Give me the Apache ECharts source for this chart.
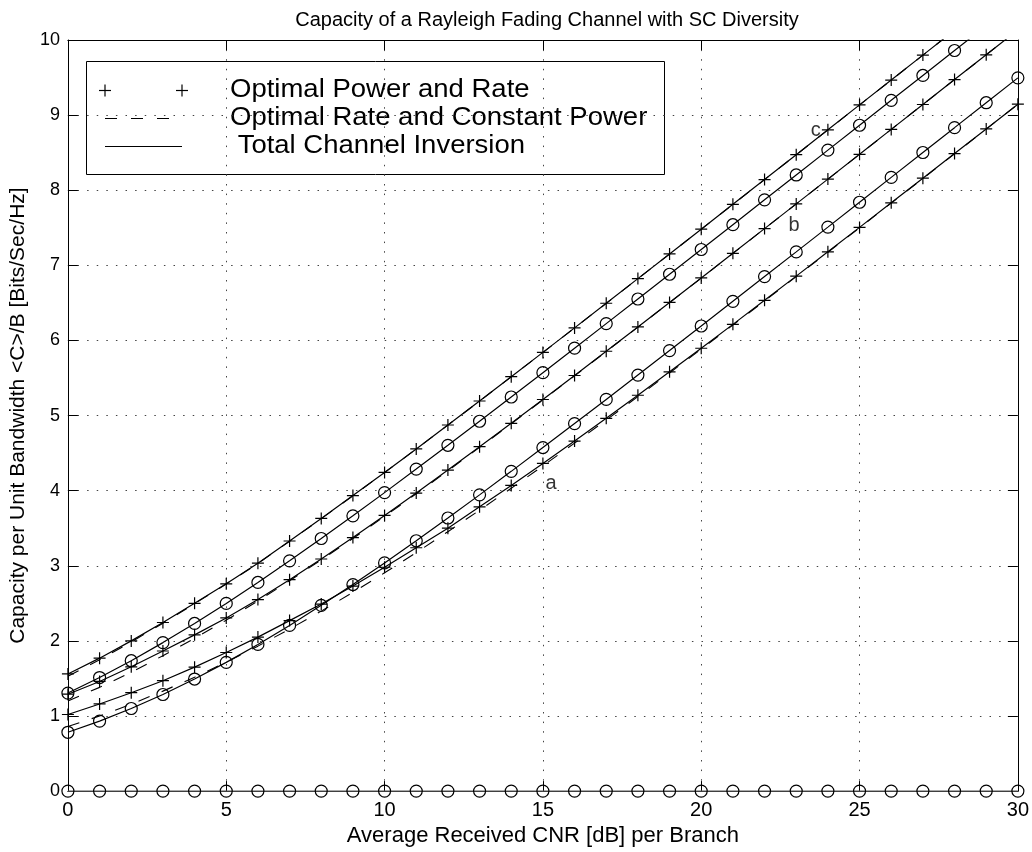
<!DOCTYPE html>
<html>
<head>
<meta charset="utf-8">
<script src="https://cdn.jsdelivr.net/npm/echarts@6/dist/echarts.min.js"></script>
<style>
  html, body { margin: 0; padding: 0; background: #fff; }
  #chart { width: 1032px; height: 852px; }
</style>
</head>
<body>
<div id="chart"></div>
<script>
// ---- Data ----
const chartTitle = 'Capacity of a Rayleigh Fading Channel with SC Diversity';
const xAxisTitle = 'Average Received CNR [dB] per Branch';
const yAxisTitle = 'Capacity per Unit Bandwidth <C>/B [Bits/Sec/Hz]';
const legendLabels = ['Optimal Power and Rate', 'Optimal Rate and Constant Power', ' Total Channel Inversion'];

const cnrDb = [0,1,2,3,4,5,6,7,8,9,10,11,12,13,14,15,16,17,18,19,20,21,22,23,24,25,26,27,28,29,30];

// Optimal power and rate (+ markers)
const opraA = [1.02,1.16,1.31,1.47,1.65,1.845,2.05,2.27,2.49,2.73,2.98,3.24,3.50,3.785,4.07,4.363,4.66,4.963,5.27,5.582,5.896,6.214,6.534,6.856,7.18,7.505,7.832,8.16,8.488,8.816,9.145];
const opraB = [1.29,1.46,1.655,1.865,2.08,2.305,2.55,2.815,3.09,3.375,3.67,3.968,4.274,4.585,4.897,5.214,5.533,5.856,6.18,6.506,6.832,7.16,7.489,7.818,8.148,8.478,8.81,9.141,9.473,9.803,10.135];
const opraC = [1.56,1.77,2.0,2.245,2.5,2.76,3.035,3.33,3.63,3.935,4.243,4.556,4.874,5.194,5.517,5.841,6.167,6.495,6.823,7.152,7.481,7.812,8.142,8.473,8.804,9.136,9.467,9.799,10.131,10.46,10.79];

// Optimal rate and constant power (dashed)
const oraA = [0.86,1.0,1.158,1.331,1.516,1.716,1.93,2.157,2.396,2.646,2.906,3.176,3.454,3.74,4.032,4.33,4.633,4.941,5.252,5.567,5.884,6.204,6.526,6.849,7.174,7.5,7.828,8.156,8.485,8.814,9.144];
const oraB = [1.20,1.381,1.583,1.803,2.033,2.276,2.531,2.80,3.078,3.364,3.657,3.958,4.265,4.577,4.891,5.209,5.529,5.853,6.177,6.504,6.83,7.159,7.488,7.817,8.147,8.477,8.81,9.141,9.473,9.803,10.135];
const oraC = [1.528,1.75,1.985,2.235,2.495,2.757,3.03,3.327,3.627,3.932,4.241,4.555,4.873,5.193,5.516,5.84,6.166,6.494,6.822,7.151,7.48,7.811,8.141,8.472,8.803,9.135,9.466,9.798,10.13,10.46,10.79];

// Total channel inversion (o markers)
const tciA = [0,0,0,0,0,0,0,0,0,0,0,0,0,0,0,0,0,0,0,0,0,0,0,0,0,0,0,0,0,0,0];
const tciB = [0.783,0.932,1.10,1.286,1.492,1.714,1.953,2.206,2.473,2.75,3.038,3.333,3.636,3.944,4.257,4.574,4.893,5.215,5.539,5.865,6.192,6.521,6.85,7.179,7.509,7.84,8.171,8.502,8.833,9.165,9.496];
const tciC = [1.305,1.512,1.736,1.977,2.232,2.499,2.778,3.066,3.363,3.665,3.974,4.287,4.604,4.924,5.247,5.571,5.897,6.224,6.552,6.881,7.211,7.541,7.872,8.203,8.534,8.865,9.197,9.528,9.86,10.191,10.522];

// Curve annotations
const annotText = ['a', 'b', 'c'];
const annotX = [15.26, 22.93, 23.62];
const annotY = [4.10, 7.53, 8.80];

// ---- Chart ----
const FONT = "'Liberation Sans', Arial, Helvetica, sans-serif";
const PLUS = 'path://M5,0L5,10M0,5L10,5';
const pair = (ys) => cnrDb.map((x, i) => [x, ys[i]]);

function plusSeries(ys, clip) {
  return {
    type: 'line', data: pair(ys), clip: clip,
    symbol: PLUS, symbolSize: 12, showAllSymbol: true,
    lineStyle: { color: '#000', width: 1.2 },
    itemStyle: { color: 'none', borderColor: '#000', borderWidth: 1.2 },
    emphasis: { disabled: true }, animation: false, z: 3
  };
}
function dashSeries(ys, clip) {
  return {
    type: 'line', data: pair(ys), clip: clip, symbol: 'none',
    lineStyle: { color: '#000', width: 1.1, type: [12, 13] },
    emphasis: { disabled: true }, animation: false, z: 2
  };
}
function circleSeries(ys, clip, lineColor) {
  return {
    type: 'line', data: pair(ys), clip: clip,
    symbol: 'circle', symbolSize: 12, showAllSymbol: true,
    lineStyle: { color: lineColor || '#000', width: 1.2 },
    itemStyle: { color: 'rgba(0,0,0,0)', borderColor: '#000', borderWidth: 1.2 },
    emphasis: { disabled: true }, animation: false, z: 3
  };
}

const gridLine = { show: true, lineStyle: { color: '#444', width: 1, type: [1.5, 8.1] } };
const axisLineBlack = { show: true, onZero: false, lineStyle: { color: '#000', width: 1 } };
const tickIn = { show: true, inside: true, length: 10, lineStyle: { color: '#000', width: 1 } };

const chart = echarts.init(document.getElementById('chart'), null, { renderer: 'canvas' });

const legendX1 = 105, legendX2 = 182;
const rowY = [90.5, 118.5, 146.5];
const legendFont = '25px ' + FONT;
const legendStretch = 1.1;

chart.setOption({
  backgroundColor: '#fff',
  animation: false,
  title: {
    text: chartTitle, left: 542, top: 5, textAlign: 'center',
    textStyle: { fontSize: 20, fontWeight: 'normal', fontFamily: FONT, color: '#000' }
  },
  grid: { left: 66, right: 13, top: 40, bottom: 60, containLabel: false },
  xAxis: [
    {
      type: 'value', min: 0, max: 30, interval: 5, position: 'bottom',
      name: xAxisTitle, nameLocation: 'middle', nameGap: 32,
      nameTextStyle: { color: '#000', fontSize: 22, fontFamily: FONT },
      axisLine: axisLineBlack, axisTick: tickIn,
      axisLabel: { margin: 9, color: '#000', fontSize: 20, fontFamily: FONT },
      splitLine: gridLine
    },
    {
      type: 'value', min: 0, max: 30, interval: 5, position: 'top',
      axisLine: axisLineBlack, axisTick: tickIn,
      axisLabel: { show: false }, splitLine: { show: false }
    }
  ],
  yAxis: [
    {
      type: 'value', min: 0, max: 10, interval: 1, position: 'left',
      name: yAxisTitle, nameLocation: 'middle', nameGap: 35,
      nameTextStyle: { color: '#000', fontSize: 21, fontFamily: FONT },
      axisLine: axisLineBlack, axisTick: tickIn,
      axisLabel: { margin: 8, color: '#000', fontSize: 18, fontFamily: FONT },
      splitLine: gridLine
    },
    {
      type: 'value', min: 0, max: 10, interval: 1, position: 'right',
      axisLine: axisLineBlack, axisTick: tickIn,
      axisLabel: { show: false }, splitLine: { show: false }
    }
  ],
  series: [
    dashSeries(oraA, true),
    dashSeries(oraB, true),
    dashSeries(oraC, true),
    plusSeries(opraA, true),
    plusSeries(opraB, true),
    plusSeries(opraC, true),
    circleSeries(tciA, false, '#555'),
    circleSeries(tciB, true),
    circleSeries(tciC, true),
    {
      type: 'scatter', symbolSize: 1, itemStyle: { color: 'rgba(0,0,0,0)' },
      data: annotText.map((t, i) => [annotX[i], annotY[i], t]),
      label: {
        show: true, position: 'inside', color: '#000', fontSize: 20, fontFamily: FONT,
        formatter: (p) => p.data[2]
      },
      emphasis: { disabled: true }, animation: false, z: 5, silent: true
    }
  ],
  graphic: [
    {
      type: 'group', z: 100,
      children: [
        { type: 'rect', shape: { x: 86.5, y: 61.5, width: 578, height: 113 },
          style: { fill: '#fff', stroke: '#000', lineWidth: 1 } },
        { type: 'line', shape: { x1: legendX1 - 6, y1: rowY[0], x2: legendX1 + 6, y2: rowY[0] }, style: { stroke: '#000', lineWidth: 1.2 } },
        { type: 'line', shape: { x1: legendX1, y1: rowY[0] - 6, x2: legendX1, y2: rowY[0] + 6 }, style: { stroke: '#000', lineWidth: 1.2 } },
        { type: 'line', shape: { x1: legendX2 - 6, y1: rowY[0], x2: legendX2 + 6, y2: rowY[0] }, style: { stroke: '#000', lineWidth: 1.2 } },
        { type: 'line', shape: { x1: legendX2, y1: rowY[0] - 6, x2: legendX2, y2: rowY[0] + 6 }, style: { stroke: '#000', lineWidth: 1.2 } },
        { type: 'line', shape: { x1: legendX1, y1: rowY[1], x2: legendX2, y2: rowY[1] }, style: { stroke: '#000', lineWidth: 1, lineDash: [12, 14] } },
        { type: 'line', shape: { x1: legendX1, y1: rowY[2], x2: legendX2, y2: rowY[2] }, style: { stroke: '#000', lineWidth: 1.2 } },
        { type: 'text', x: 230, y: rowY[0], scaleX: legendStretch, style: { text: legendLabels[0], fill: '#000', font: legendFont, verticalAlign: 'middle' } },
        { type: 'text', x: 230, y: rowY[1], scaleX: legendStretch, style: { text: legendLabels[1], fill: '#000', font: legendFont, verticalAlign: 'middle' } },
        { type: 'text', x: 230, y: rowY[2], scaleX: legendStretch, style: { text: legendLabels[2], fill: '#000', font: legendFont, verticalAlign: 'middle' } }
      ]
    }
  ]
});
</script>
</body>
</html>
